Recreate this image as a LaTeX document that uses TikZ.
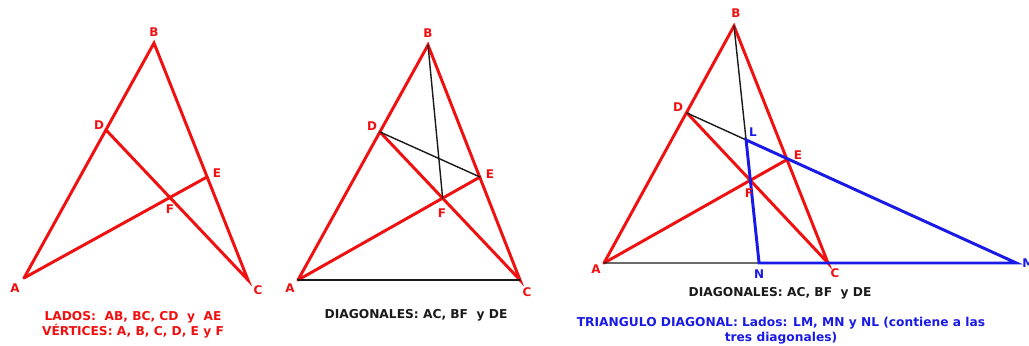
\documentclass[tikz,border=0pt]{standalone}
\usepackage{fontspec}
\setmainfont{DejaVu Sans}
\usetikzlibrary{positioning, calc}
\definecolor{rojo}{HTML}{F01010}
\definecolor{azul}{HTML}{1A1AE6}
\definecolor{negro}{HTML}{1A1A1A}

\tikzset{
  lado/.style={draw=rojo, line width=2.1pt, line cap=round},
  diag/.style={draw=negro, line width=1pt, line cap=round},
  trdiag/.style={draw=azul, line width=2.1pt, line cap=round},
  etiq/.style={text=rojo, font=\bfseries\fontsize{8.5}{10}\selectfont, inner sep=0pt},
  etiqaz/.style={etiq, text=azul},
  leyenda/.style={font=\bfseries\fontsize{8.7}{10.7}\selectfont, align=center, inner sep=0pt}
}

\begin{document}
\begin{tikzpicture}[x=0.025cm, y=-0.025cm]
  \useasboundingbox (0,0) rectangle (1029,345);

  % primer cuadrilatero: lados y vertices
  \coordinate (A1) at (24,278);
  \coordinate (B1) at (154,43);
  \coordinate (C1) at (248,280);
  \coordinate (D1) at (107,131);
  \coordinate (E1) at (207,177);
  \coordinate (F1) at (intersection of A1--E1 and C1--D1);
  \draw[lado] (A1) -- (B1) -- (C1) -- (D1);
  \draw[lado] (A1) -- (E1);
  \node[etiq] (lA1) at (15,288) {A};
  \node[etiq] (lB1) at (154,32) {B};
  \node[etiq] (lC1) at (258,290) {C};
  \node[etiq] (lD1) at (99,125) {D};
  \node[etiq] (lE1) at (217,173) {E};
  \node[etiq] (lF1) at (170,209) {F};
  \node[leyenda, text=rojo] (ley1) at (133,325)
    {LADOS:\ \ AB, BC, CD\ \ y\ \ AE\\VÉRTICES: A, B, C, D, E y F};

  % segundo cuadrilatero: diagonales
  \coordinate (A2) at (298,280);
  \coordinate (B2) at (428,45);
  \coordinate (C2) at (520,280);
  \coordinate (D2) at (380,132);
  \coordinate (E2) at (480,177);
  \coordinate (F2) at (intersection of A2--E2 and C2--D2);
  \draw[lado] (A2) -- (B2) -- (C2) -- (D2);
  \draw[lado] (A2) -- (E2);
  \draw[diag] (A2) -- (C2);
  \draw[diag] (B2) -- (F2);
  \draw[diag] (D2) -- (E2);
  \node[etiq] (lA2) at (290,288) {A};
  \node[etiq] (lB2) at (428,33) {B};
  \node[etiq] (lC2) at (527,292) {C};
  \node[etiq] (lD2) at (372,126) {D};
  \node[etiq] (lE2) at (490,174) {E};
  \node[etiq] (lF2) at (442,213) {F};
  \node[leyenda, text=negro] (ley2) at (416,315) {DIAGONALES: AC, BF\ \ y DE};

  % tercer cuadrilatero: triangulo diagonal
  \coordinate (A3) at (604,263);
  \coordinate (B3) at (734,26);
  \coordinate (C3) at (828,263);
  \coordinate (D3) at (687,113);
  \coordinate (E3) at (788,159);
  \coordinate (F3) at (intersection of A3--E3 and C3--D3);
  \coordinate (L3) at (intersection of B3--F3 and D3--E3);
  \coordinate (M3) at (intersection of D3--E3 and A3--C3);
  \coordinate (N3) at (intersection of B3--F3 and A3--C3);
  \draw[lado] (A3) -- (B3) -- (C3) -- (D3);
  \draw[lado] (A3) -- (E3);
  \draw[diag] (A3) -- (N3);
  \draw[diag] (B3) -- (L3);
  \draw[diag] (D3) -- (L3);
  \draw[trdiag] (L3) -- (M3) -- (N3) -- cycle;
  \node[etiq] (lA3) at (596,269) {A};
  \node[etiq] (lB3) at (736,13) {B};
  \node[etiq] (lC3) at (835,273) {C};
  \node[etiq] (lD3) at (678,107) {D};
  \node[etiq] (lE3) at (798,155) {E};
  \node[etiq] (lF3) at (749,193) {F};
  \node[etiqaz] (lL3) at (753,132) {L};
  \node[etiqaz, anchor=west] (lM3) at (1022,263) {M};
  \node[etiqaz] (lN3) at (759,274) {N};
  \node[leyenda, text=negro] (ley3) at (780,293) {DIAGONALES: AC, BF\ \ y DE};
  \node[leyenda, text=azul] (ley4) at (781,331)
    {TRIANGULO DIAGONAL: Lados: LM, MN y NL (contiene a las\\tres diagonales)};
\end{tikzpicture}
\end{document}
